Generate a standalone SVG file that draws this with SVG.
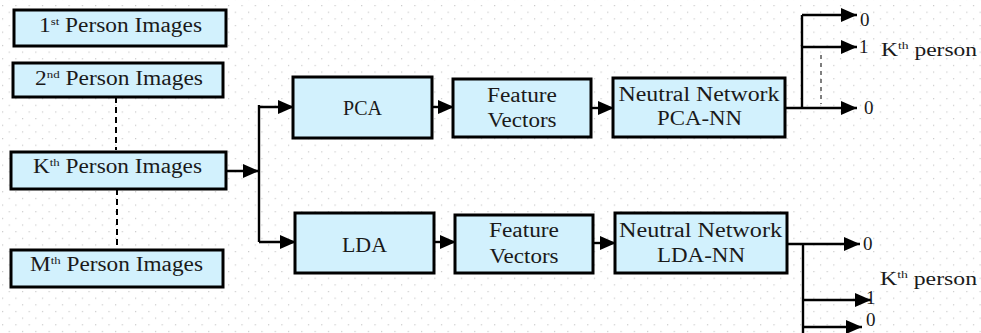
<svg xmlns="http://www.w3.org/2000/svg" width="981" height="333" viewBox="0 0 981 333">
<style>
.box{fill:#d2f1fd;stroke:#000;stroke-width:3}
.t{font-family:"Liberation Serif","Times New Roman",serif;font-size:20px;fill:#1a1a1a}
.o{font-family:"Liberation Serif","Times New Roman",serif;font-size:19px;fill:#1a1a1a}
.sup{font-size:11px}
.ln{fill:none;stroke:#000;stroke-width:2.4}
.ar{fill:none;stroke:#000;stroke-width:2.4;marker-end:url(#ah)}
.dash{fill:none;stroke:#000;stroke-width:2;stroke-dasharray:6 4}
.dash2{fill:none;stroke:#555;stroke-width:1.5;stroke-dasharray:4 4}
</style>
<defs>
<pattern id="dots" width="13.3" height="13.3" patternUnits="userSpaceOnUse" x="2" y="5">
<rect x="0" y="0" width="1.2" height="1.2" fill="#c9c9c9"/>
<rect x="6.65" y="6.65" width="1.2" height="1.2" fill="#c9c9c9"/>
</pattern>
<marker id="ah" viewBox="0 0 16 14" refX="16" refY="7" markerWidth="16" markerHeight="14" markerUnits="userSpaceOnUse" orient="auto">
<path d="M0,0 L16,7 L0,14 Z" fill="#000"/>
</marker>
</defs>
<rect width="981" height="333" fill="#fff"/>
<rect width="981" height="333" fill="url(#dots)"/>

<g id="connectors">
<path class="dash" d="M116,97 V150"/>
<path class="dash" d="M117,189 V250"/>
<path class="ar" d="M226,171 H259"/>
<path class="ln" d="M259,105 V242"/>
<path class="ar" d="M259,107 H294"/>
<path class="ar" d="M259,242 H296"/>
<path class="ar" d="M432,107 H454"/>
<path class="ar" d="M591,108 H614"/>
<path class="ar" d="M434,242 H456"/>
<path class="ar" d="M593,243 H616"/>
<path class="ln" d="M785,108 H802 M802,108 V15"/>
<path class="ar" d="M802,15 H857"/>
<path class="ar" d="M802,47 H857"/>
<path class="ar" d="M802,108 H857"/>
<path class="dash2" d="M821,55 V104"/>
<path class="ln" d="M787,244 H803 M803,244 V333"/>
<path class="ar" d="M803,244 H860"/>
<path class="ar" d="M803,300 H871"/>
<path class="ar" d="M803,327 H862"/>
</g>

<g id="n1"><rect class="box" x="14" y="10" width="212" height="36"/>
<text class="t" x="39" y="32" textLength="163" lengthAdjust="spacingAndGlyphs">1<tspan class="sup" dy="-7">st</tspan><tspan dy="7"> Person Images</tspan></text></g>
<g id="n2"><rect class="box" x="13" y="63" width="210" height="34"/>
<text class="t" x="35" y="85" textLength="168" lengthAdjust="spacingAndGlyphs">2<tspan class="sup" dy="-7">nd</tspan><tspan dy="7"> Person Images</tspan></text></g>
<g id="nk"><rect class="box" x="11" y="152" width="215" height="37"/>
<text class="t" x="33" y="173" textLength="169" lengthAdjust="spacingAndGlyphs">K<tspan class="sup" dy="-7">th</tspan><tspan dy="7"> Person Images</tspan></text></g>
<g id="nm"><rect class="box" x="11" y="250" width="212" height="37"/>
<text class="t" x="30" y="271" textLength="173" lengthAdjust="spacingAndGlyphs">M<tspan class="sup" dy="-7">th</tspan><tspan dy="7"> Person Images</tspan></text></g>

<g id="pca"><rect class="box" x="293" y="77" width="139" height="61"/>
<text class="t" x="362.5" y="115" text-anchor="middle">PCA</text></g>
<g id="fv1"><rect class="box" x="453" y="79" width="138" height="58"/>
<text class="t" x="522" y="102" text-anchor="middle" textLength="70" lengthAdjust="spacingAndGlyphs">Feature</text>
<text class="t" x="522" y="127" text-anchor="middle" textLength="69" lengthAdjust="spacingAndGlyphs">Vectors</text></g>
<g id="nn1"><rect class="box" x="613" y="78" width="172" height="59"/>
<text class="t" x="699" y="101" text-anchor="middle" textLength="161" lengthAdjust="spacingAndGlyphs">Neutral Network</text>
<text class="t" x="699.5" y="125" text-anchor="middle" textLength="85" lengthAdjust="spacingAndGlyphs">PCA-NN</text></g>

<g id="lda"><rect class="box" x="295" y="213" width="139" height="60"/>
<text class="t" x="364.5" y="252" text-anchor="middle" textLength="45" lengthAdjust="spacingAndGlyphs">LDA</text></g>
<g id="fv2"><rect class="box" x="455" y="215" width="138" height="58"/>
<text class="t" x="524" y="237" text-anchor="middle" textLength="70" lengthAdjust="spacingAndGlyphs">Feature</text>
<text class="t" x="524" y="263" text-anchor="middle" textLength="69" lengthAdjust="spacingAndGlyphs">Vectors</text></g>
<g id="nn2"><rect class="box" x="615" y="213" width="172" height="60"/>
<text class="t" x="700.5" y="237" text-anchor="middle" textLength="163" lengthAdjust="spacingAndGlyphs">Neutral Network</text>
<text class="t" x="701" y="262" text-anchor="middle" textLength="88" lengthAdjust="spacingAndGlyphs">LDA-NN</text></g>

<g id="out1">
<text class="o" x="860" y="26">0</text>
<text class="o" x="859" y="53">1</text>
<text class="o" x="864" y="114">0</text>
<text class="o" x="881" y="56" textLength="96" lengthAdjust="spacingAndGlyphs">K<tspan class="sup" dy="-7">th</tspan><tspan dy="7"> person</tspan></text>
</g>
<g id="out2">
<text class="o" x="863" y="250">0</text>
<text class="o" x="880" y="285" textLength="97" lengthAdjust="spacingAndGlyphs">K<tspan class="sup" dy="-7">th</tspan><tspan dy="7"> person</tspan></text>
<text class="o" x="866" y="304">1</text>
<text class="o" x="866" y="326">0</text>
</g>
</svg>
